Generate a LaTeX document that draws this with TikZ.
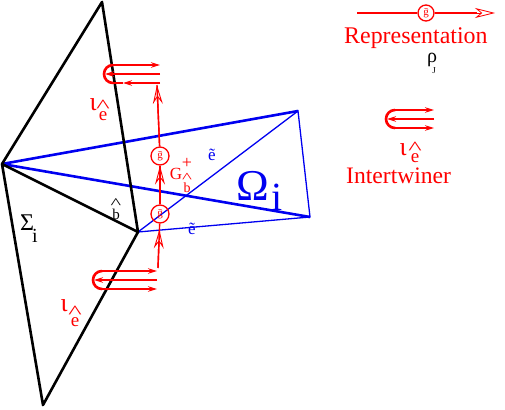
\documentclass[tikz,border=0pt]{standalone}
\usepackage{fontspec}
\setmainfont{Liberation Serif}
\usetikzlibrary{arrows.meta}
\newcommand{\fs}[1]{\fontsize{#1}{#1}\selectfont}
\newcommand{\hatted}[1]{\shortstack[c]{\scalebox{1.5}[1]{\^{}}\\[-0.2em]#1}}
\definecolor{rd}{RGB}{255,0,0}
\definecolor{bl}{RGB}{0,0,240}
\tikzset{
 edgeline/.style={line width=2.6pt,black},
 thickblue/.style={line width=2.6pt,bl},
 thinblue/.style={line width=1.3pt,bl},
 wire/.style={line width=2.2pt,rd},
 wiretip/.style={wire,-{Stealth[length=9pt,width=5.5pt]}},
 strand/.style={line width=1.4pt,rd},
 opentip/.style={strand,-{Stealth[open,length=19pt,width=10pt,inset=7pt,line width=.9pt]}},
 gnode/.style={circle,draw=rd,line width=1.3pt,text=rd,inner sep=0pt,minimum size=#1,font=\fs{11}},
 lab/.style={inner sep=0pt,text=#1}
}
\begin{document}
\begin{tikzpicture}[x=1pt,y=-1pt]
\useasboundingbox (0,0) rectangle (505,409);
\coordinate (top) at (102,2);
\coordinate (left) at (2,164);
\coordinate (bot) at (43,405);
\coordinate (mid) at (138,232);
\coordinate (far) at (298,111);
\coordinate (near) at (310,217);
\draw[thickblue] (left)--(far);
\draw[thickblue] (left)--(near);
\draw[thinblue] (mid)--(far)--(near)--(mid);
\draw[edgeline,line join=round] (mid)--(top)--(left)--(bot)--(mid)--(left);
\node[gnode=18pt] (g1) at (160,214) {\={g}};
\node[gnode=18pt] (g2) at (160,156) {\={g}};
\coordinate (vstart) at (158,268);
\coordinate (vend) at (157,85);
\draw[strand] (vstart)--(g1);
\draw[opentip,shorten >=6pt] (vstart)--(g1);
\draw[strand] (g1)--(g2);
\draw[opentip] (g1)--(g2);
\draw[strand] (g2)--(vend);
\draw[opentip] (g2)--(vend);
\foreach \nm/\cx/\cy/\ex in {up/113/74/160,low/102/280/157,leg/395/119/434} {
 \coordinate (\nm a) at (\cx,\cy-9);
 \coordinate (\nm c) at (\cx,\cy);
 \coordinate (\nm b) at (\cx,\cy+9);
 \coordinate (\nm at) at (\ex,\cy-9);
 \coordinate (\nm e) at (\ex,\cy);
 \coordinate (\nm bt) at (\ex,\cy+9);
 \draw[wire,line width=2.6pt] (\nm a) arc (270:90:9);
 \draw[wiretip] (\nm e)--([xshift=-8pt]\nm c);
 \draw[wiretip] (\nm a)--(\nm at);
}
\coordinate (upm) at (123,83);
\draw[wiretip] (upbt)--(upm);
\draw[wire] (upm)--(upb);
\draw[wiretip] (lowb)--(lowbt);
\draw[wiretip] (legb)--(legbt);
\node[gnode=16pt] (gr) at (426,13) {\={g}};
\coordinate (rstart) at (357,13);
\coordinate (rend) at (495,13);
\draw[wire] (rstart)--(gr);
\draw[wire,shorten >=18pt] (gr)--(rend);
\draw[rd,line width=.8pt,-{Stealth[open,length=20pt,width=10pt,inset=6pt]}] (gr)--(rend);
\foreach \nm/\x/\y/\dx/\dy in {iup/93/105/10/5,ilow/64/306/11/10,ileg/403/150/12/2} {
 \node[lab=rd,font=\fs{26}] (\nm) at (\x,\y) {ι};
 \node[lab=rd,font=\fs{19}] (\nm e) at (\x+\dx,\y+\dy) {\hatted{e}};
}
\node[lab=rd,font=\fs{23.9},anchor=base west] (repr) at (344,44) {Representation};
\node[lab=rd,font=\fs{23.6},anchor=base west] (intw) at (346,183) {Intertwiner};
\node[lab=black,font=\fs{20}] (rho) at (432,60) {ρ};
\node[lab=black,font=\fs{9}] (rhoj) at (434,71) {J};
\node[lab=black,font=\fs{24}] (sig) at (27,223) {Σ};
\node[lab=black,font=\fs{20}] (sigi) at (35,236) {i};
\node[lab=bl,font=\fs{44}] (om) at (253,186) {Ω};
\node[lab=bl,font=\fs{40}] (omi) at (277,197) {i};
\node[lab=black,font=\fs{15}] (bh) at (116,209) {\hatted{b}};
\node[lab=rd,font=\fs{17}] (gb) at (176,174) {G};
\node[lab=rd,font=\fs{18}] (gp) at (187,163) {+};
\node[lab=rd,font=\fs{14}] (gbb) at (187,183) {\hatted{b}};
\node[lab=bl,font=\fs{17}] (e1) at (212,155) {\~{e}};
\node[lab=bl,font=\fs{17}] (e2) at (192,229) {\~{e}};
\end{tikzpicture}
\end{document}
